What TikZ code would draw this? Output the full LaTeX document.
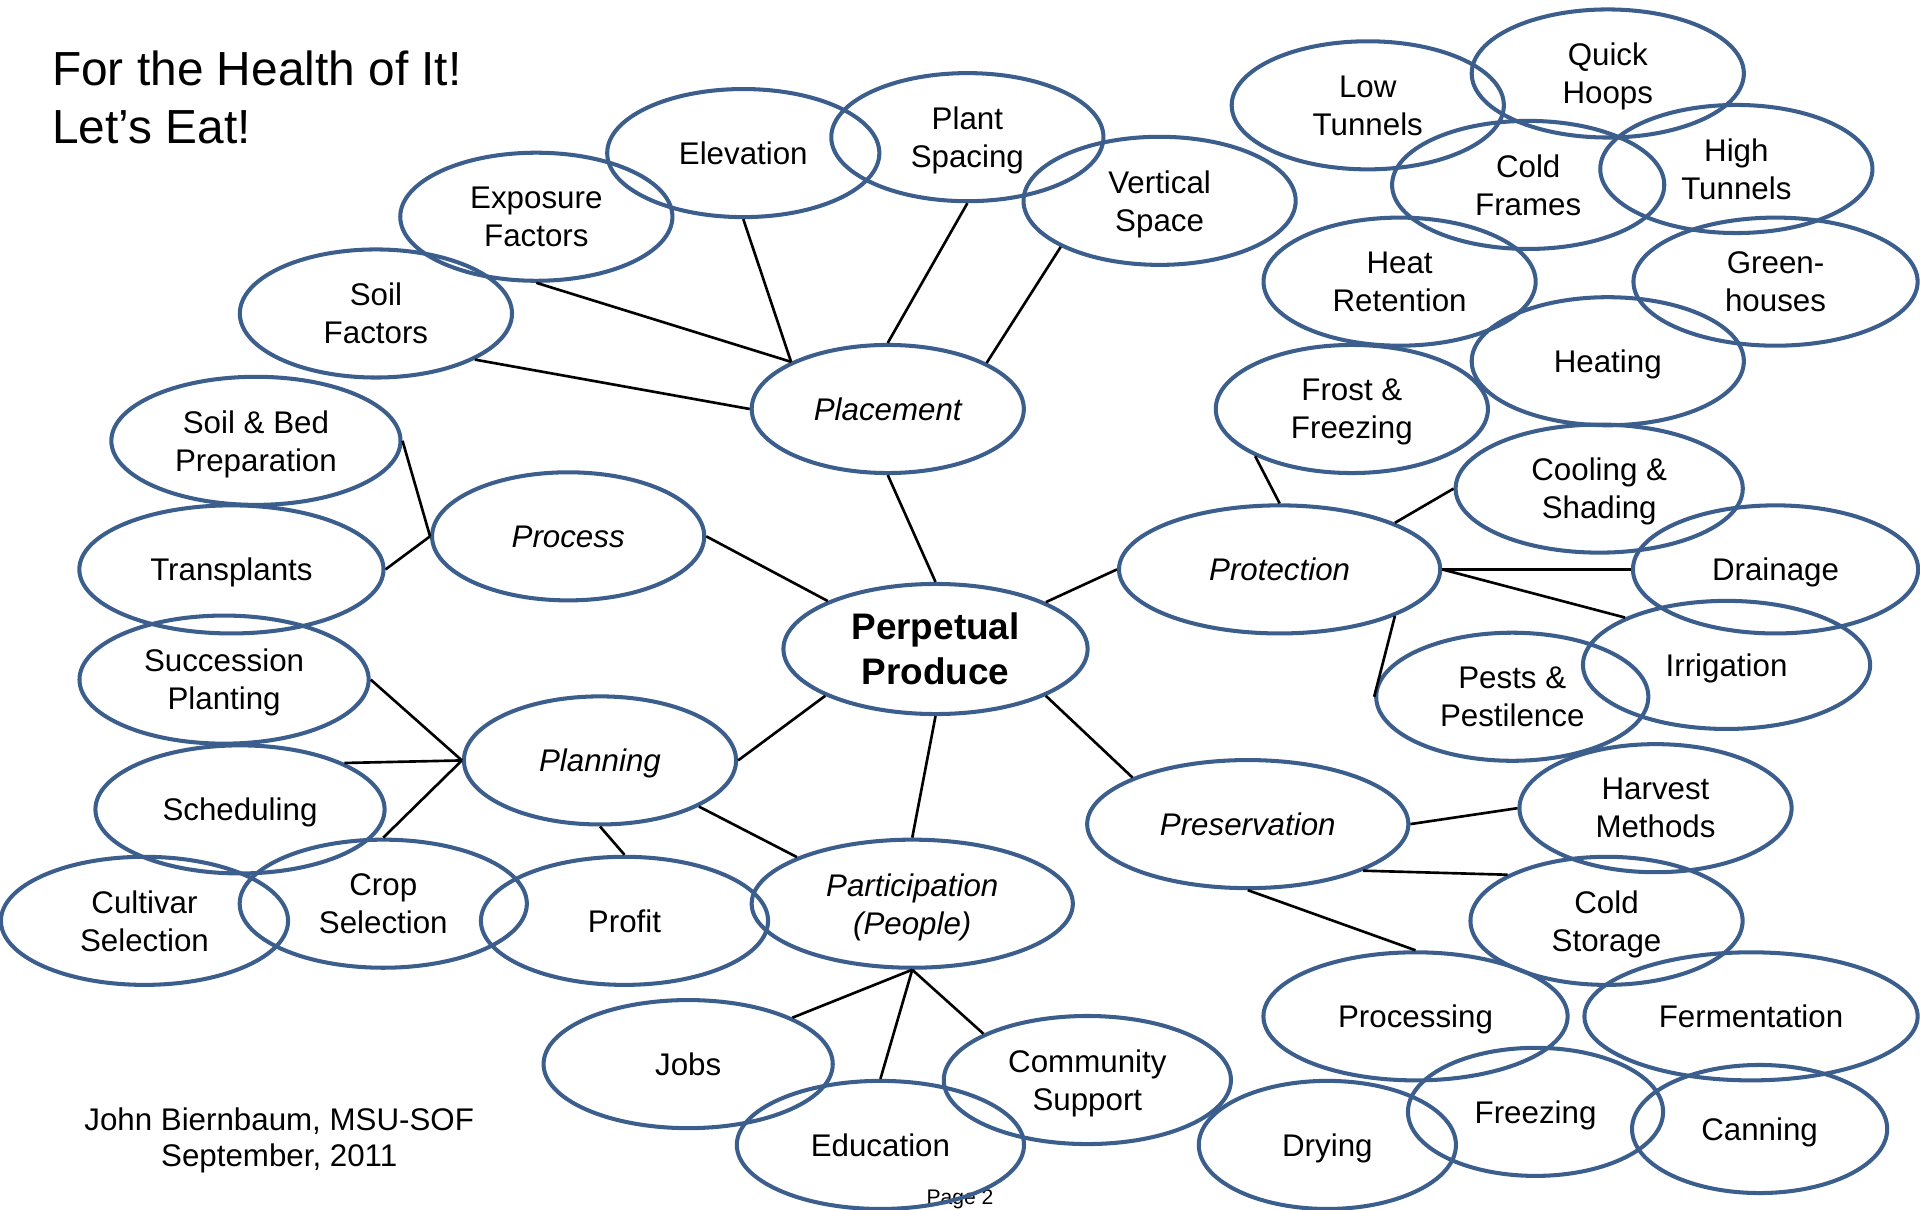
\documentclass[tikz,border=0pt]{standalone}
\usepackage{fontspec}
\setmainfont{Liberation Sans}
\usetikzlibrary{shapes.geometric}
\definecolor{ovalblue}{HTML}{3B5E8C}
\newcommand\bubblefont{\fontsize{8.9}{10.8}\selectfont}
\newcommand\bigbubblefont{\fontsize{10.5}{12.8}\selectfont\bfseries}
\newcommand\headfont{\fontsize{13.6}{16.2}\selectfont}

\begin{document}
\begin{tikzpicture}[x=0.012245cm,y=-0.012245cm,
    bubble/.style={ellipse,draw=ovalblue,line width=1.15pt,minimum width=2.72cm,
      minimum height=1.28cm,inner sep=0pt,align=center,text depth=0pt,font=\bubblefont},
    topic/.style={bubble,font=\bubblefont\itshape},
    plain/.style={inner sep=0pt,font=\bubblefont},
    link/.style={line width=.75pt}]
  \useasboundingbox (0,0) rectangle (1568,988);

  \node[plain,anchor=base west,font=\headfont] (head1) at (42,70) {For the Health of It!};
  \node[plain,anchor=base west,font=\headfont] (head2) at (42,117) {Let’s Eat!};
  \node[plain,anchor=base] (auth1) at (228,923) {John Biernbaum, MSU-SOF};
  \node[plain,anchor=base] (auth2) at (228,953) {September, 2011};
  \node[plain,anchor=base,font=\fontsize{6}{7}\selectfont] (page) at (784,984) {Page 2};

  \node[bubble,minimum width=3.04cm,minimum height=1.3cm,font=\bigbubblefont] (pp) at (764,530) {Perpetual\\Produce};

  % placement
  \node[topic] (place) at (725,334) {Placement};
  \node[bubble] (soilf) at (307,256) {Soil\\Factors};
  \node[bubble] (expo) at (438,177) {Exposure\\Factors};
  \node[bubble] (elev) at (607,125) {Elevation};
  \node[bubble] (spacing) at (790,112) {Plant\\Spacing};
  \node[bubble] (vert) at (947,164) {Vertical\\Space};

  % process
  \node[topic] (process) at (464,438) {Process};
  \node[bubble,minimum width=2.89cm] (bed) at (209,360) {Soil \& Bed\\Preparation};
  \node[bubble,minimum width=3.04cm] (transp) at (189,465) {Transplants};

  % planning
  \node[topic] (plan) at (490,621) {Planning};
  \node[bubble,minimum width=2.89cm] (succ) at (183,555) {Succession\\Planting};
  \node[bubble,minimum width=2.89cm] (sched) at (196,661) {Scheduling};
  \node[bubble,minimum width=2.87cm] (cultivar) at (118,752) {Cultivar\\Selection};
  \node[bubble,minimum width=2.87cm] (crop) at (313,738) {Crop\\Selection};
  \node[bubble,minimum width=2.87cm] (profit) at (510,752) {Profit};

  % participation
  \node[topic,minimum width=3.21cm] (people) at (745,738) {Participation\\(People)};
  \node[bubble,minimum width=2.89cm] (jobs) at (562,869) {Jobs};
  \node[bubble,minimum width=2.87cm] (edu) at (719,935) {Education};
  \node[bubble,minimum width=2.87cm] (community) at (888,882) {Community\\Support};

  % protection
  \node[topic,minimum width=3.21cm] (prot) at (1045,465) {Protection};
  \node[bubble] (lowt) at (1117,86) {Low\\Tunnels};
  \node[bubble] (hoops) at (1313,60) {Quick\\Hoops};
  \node[bubble] (coldf) at (1248,151) {Cold\\Frames};
  \node[bubble] (hight) at (1418,138) {High\\Tunnels};
  \node[bubble] (heatr) at (1143,230) {Heat\\Retention};
  \node[bubble,minimum width=2.84cm] (green) at (1450,230) {Green-\\houses};
  \node[bubble] (heating) at (1313,295) {Heating};
  \node[bubble] (frost) at (1104,334) {Frost \&\\Freezing};
  \node[bubble,minimum width=2.87cm] (cooling) at (1306,399) {Cooling \&\\Shading};
  \node[bubble,minimum width=2.85cm] (drain) at (1450,465) {Drainage};
  \node[bubble,minimum width=2.87cm] (irrig) at (1410,543) {Irrigation};
  \node[bubble] (pests) at (1235,569) {Pests \&\\Pestilence};

  % preservation
  \node[topic,minimum width=3.21cm] (pres) at (1019,673) {Preservation};
  \node[bubble] (harvest) at (1352,660) {Harvest\\Methods};
  \node[bubble] (coldst) at (1312,752) {Cold\\Storage};
  \node[bubble,minimum width=3.04cm] (procs) at (1156,830) {Processing};
  \node[bubble,minimum width=3.33cm] (ferm) at (1430,830) {Fermentation};
  \node[bubble,minimum width=2.57cm] (drying) at (1084,935) {Drying};
  \node[bubble,minimum width=2.55cm] (freez) at (1254,908) {Freezing};
  \node[bubble,minimum width=2.55cm] (canning) at (1437,922) {Canning};

  \foreach \a/\b in {soilf.-25/place.west, expo.south/place.154, elev.south/place.154,
      spacing.south/place.north, vert.-155/place.25, place.south/pp.north,
      process.east/pp.156, bed.east/process.west, transp.east/process.west,
      pp.-157/plan.east, succ.east/plan.west, sched.24/plan.west, crop.north/plan.west,
      plan.south/profit.north, plan.-25/people.158, pp.south/people.north,
      pp.-23/pres.158, pp.23/prot.west, prot.north/frost.-154, prot.22/cooling.west,
      prot.east/drain.west, prot.east/irrig.155, prot.-22/pests.west,
      pres.east/harvest.west, pres.-22/coldst.155, pres.south/procs.north,
      people.south/jobs.24, people.south/edu.north, people.south/community.156}
    \draw[link] (\a) -- (\b);
\end{tikzpicture}
\end{document}
